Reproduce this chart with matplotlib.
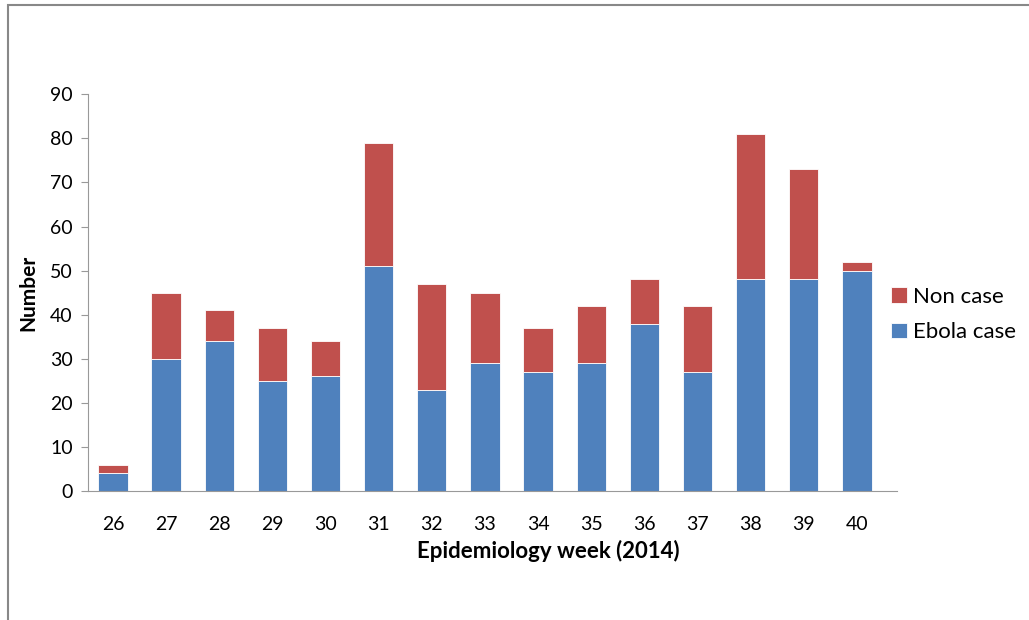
import numpy as np
import matplotlib
matplotlib.use("Agg")
import matplotlib.pyplot as plt
from matplotlib.patches import Rectangle

# weekly counts
weeks = ["26", "27", "28", "29", "30", "31", "32", "33", "34", "35", "36", "37", "38", "39", "40"]
ebola_case = [4, 30, 34, 25, 26, 51, 23, 29, 27, 29, 38, 27, 48, 48, 50]
non_case = [2, 15, 7, 12, 8, 28, 24, 16, 10, 13, 10, 15, 33, 25, 2]

plt.rcParams['font.family'] = ['Lato', 'DejaVu Sans']

fig = plt.figure(figsize=(10.29, 6.2), dpi=100)
ax = fig.add_axes([0.0855, 0.208, 0.786, 0.640])

x = np.arange(len(weeks))
blue = "#4f81bd"
red = "#c0504d"
ax.bar(x, ebola_case, width=0.55, color=blue, edgecolor="white", linewidth=0.6, label="Ebola case")
ax.bar(x, non_case, width=0.55, bottom=ebola_case, color=red, edgecolor="white", linewidth=0.6, label="Non case")

ax.set_xlim(-0.47, len(weeks) - 0.25)
ax.set_ylim(0, 90)
ax.set_yticks(range(0, 91, 10))
ax.set_xticks(x)
ax.set_xticklabels(weeks)

for s in ["top", "right"]:
    ax.spines[s].set_visible(False)
ax.spines["left"].set_color("#999999")
ax.spines["bottom"].set_color("#999999")
ax.tick_params(axis="y", length=5, color="#999999", labelsize=14, pad=6)
ax.tick_params(axis="x", length=0, labelsize=14, pad=18)

ax.set_ylabel("Number", fontsize=15, fontweight="bold", labelpad=8)
ax.set_xlabel("Epidemiology week (2014)", fontsize=16, fontweight="bold")
ax.xaxis.set_label_coords(0.569, -0.122)

handles, labels = ax.get_legend_handles_labels()
fig.legend(handles[::-1], labels[::-1], loc="center left", bbox_to_anchor=(0.866, 0.493),
           bbox_transform=fig.transFigure, frameon=False, fontsize=16,
           handlelength=0.7, handleheight=0.7, handletextpad=0.3, labelspacing=0.7,
           borderpad=0, borderaxespad=0)

# outer border of the picture
fig.patches.append(Rectangle((0.008, -0.01), 1.2, 1.002, transform=fig.transFigure,
                             fill=False, edgecolor="#888888", linewidth=1.5))

fig.savefig("out.png", dpi=100)
